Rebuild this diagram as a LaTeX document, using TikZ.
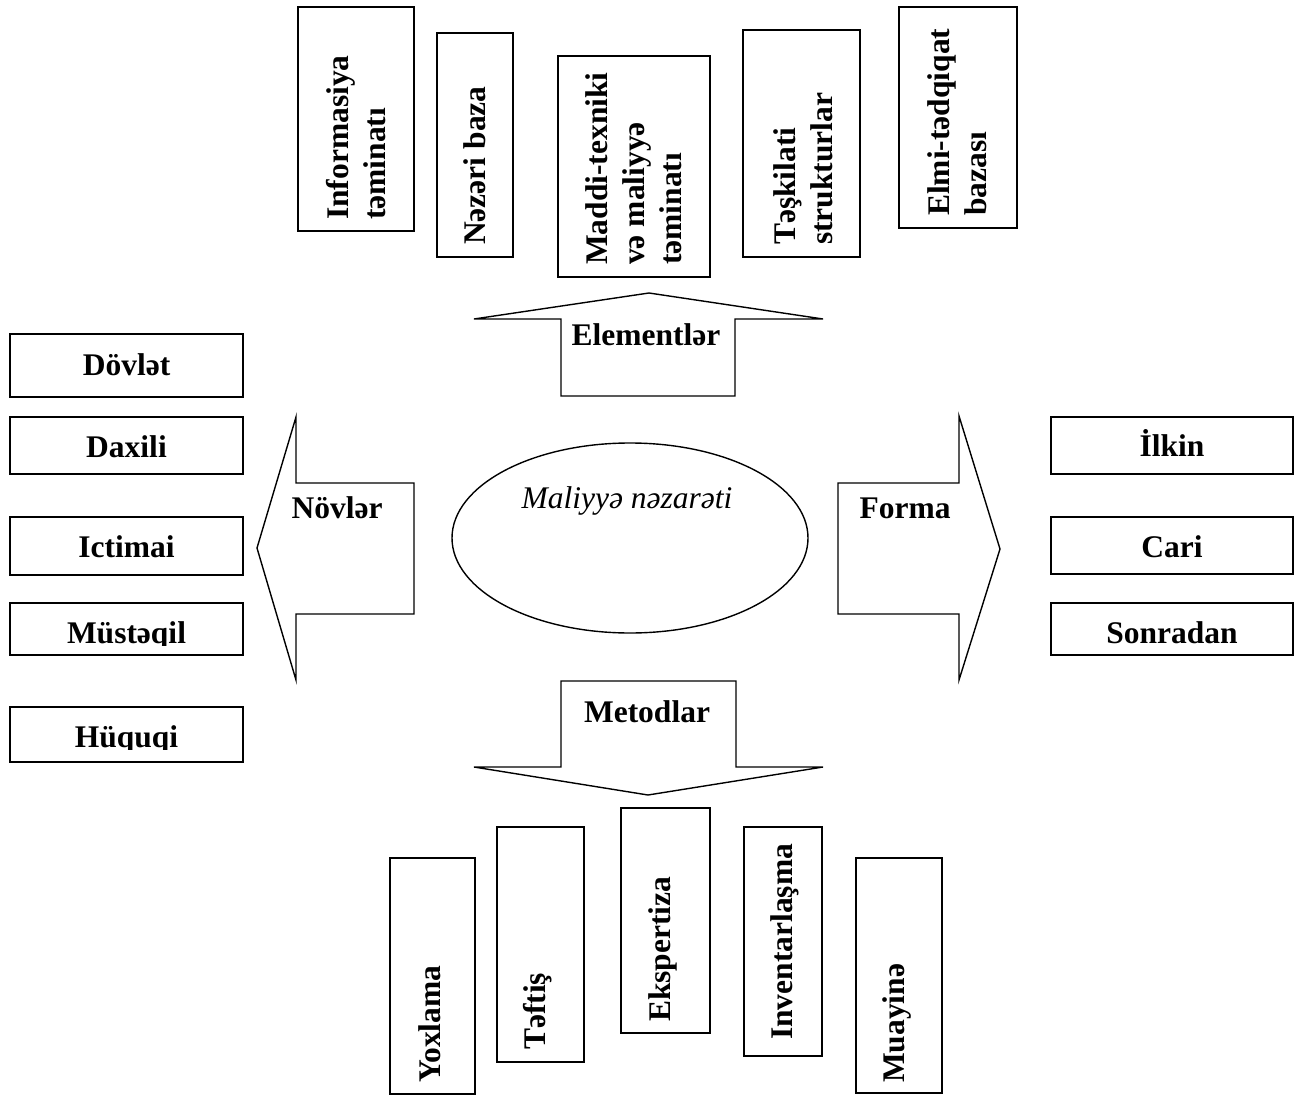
\documentclass[tikz,border=0pt]{standalone}
\usepackage{fontspec}
\setmainfont{Liberation Serif}
\usetikzlibrary{shapes.geometric}
\begin{document}
\begin{tikzpicture}[x=1pt,y=-1pt,
  box/.style={draw, line width=1.8pt, rectangle, inner sep=0pt},
  lbl/.style={font=\fontsize{31.5}{37}\selectfont\bfseries, inner sep=0pt, anchor=base},
  vlbl/.style={font=\fontsize{31.5}{37}\selectfont\bfseries, inner sep=0pt, rotate=90, anchor=west, align=left},
  blockarrow/.style={draw, line width=1.4pt, line join=miter},
]
\useasboundingbox (0,0) rectangle (1301,1097);
\fill[white] (0,0) rectangle (1301,1097);

% ---- central ellipse
\node[draw, ellipse, line width=1.4pt, minimum width=356pt, minimum height=190pt, inner sep=0pt] (core) at (630,538) {};
\node[font=\fontsize{31.5}{37}\selectfont\itshape, inner sep=0pt, anchor=base] (coreT) at (627,508) {Maliyyə nəzarəti};

% ---- block arrows
\draw[blockarrow] (561,396) -- (561,319) -- (474,319) -- (649,293) -- (823,319) -- (735,319) -- (735,396) -- cycle;
\node[lbl] (elemT) at (646,345) {Elementlər};

\draw[blockarrow] (561,681) -- (736,681) -- (736,767) -- (823,767) -- (648,795) -- (474,767) -- (561,767) -- cycle;
\node[lbl] (metT) at (647,722) {Metodlar};

\draw[blockarrow] (414,483) -- (296,483) -- (296,417) -- (257,548) -- (296,680) -- (296,614) -- (414,614) -- cycle;
\node[lbl] (novT) at (337,518) {Növlər};

\draw[blockarrow] (838,483) -- (959,483) -- (959,416) -- (1000,549) -- (959,680) -- (959,614) -- (838,614) -- cycle;
\node[lbl] (forT) at (905,518) {Forma};

% ---- top boxes (elements)
\node[box, minimum width=116pt, minimum height=224pt] (inf) at (356,119) {};
\node[vlbl] (infT) at (356,220) {Informasiya\\təminatı};
\node[box, minimum width=76pt, minimum height=224pt] (nez) at (475,145) {};
\node[vlbl] (nezT) at (475,245) {Nəzəri baza};
\node[box, minimum width=152pt, minimum height=221pt] (mad) at (634,166.5) {};
\node[vlbl] (madT) at (634,265) {Maddi-texniki\\və maliyyə\\təminatı};
\node[box, minimum width=117pt, minimum height=227pt] (tes) at (801.5,143.5) {};
\node[vlbl] (tesT) at (803,245) {Təşkilati\\strukturlar};
\node[box, minimum width=118pt, minimum height=221pt] (elm) at (958,117.5) {};
\node[vlbl] (elmT) at (957,216) {Elmi-tədqiqat\\bazası};

% ---- bottom boxes (methods)
\node[box, minimum width=85pt, minimum height=236pt] (yox) at (432.5,976) {};
\node[vlbl] (yoxT) at (430,1083) {Yoxlama};
\node[box, minimum width=87pt, minimum height=235pt] (tef) at (540.5,944.5) {};
\node[vlbl] (tefT) at (538,1050) {Təftiş};
\node[box, minimum width=89pt, minimum height=225pt] (eks) at (665.5,920.5) {};
\node[vlbl] (eksT) at (663,1022) {Ekspertiza};
\node[box, minimum width=78pt, minimum height=229pt] (inv) at (783,941.5) {};
\node[vlbl] (invT) at (785,1040) {Inventarlaşma};
\node[box, minimum width=86pt, minimum height=235pt] (mua) at (899,975.5) {};
\node[vlbl] (muaT) at (897,1083) {Muayinə};

% ---- left boxes (kinds)
\node[box, minimum width=233pt, minimum height=63pt] (dov) at (126.5,365.5) {};
\node[lbl] (dovT) at (126.5,375) {Dövlət};
\node[box, minimum width=233pt, minimum height=57pt] (dax) at (126.5,445.5) {};
\node[lbl] (daxT) at (126.5,457) {Daxili};
\node[box, minimum width=233pt, minimum height=58pt] (ict) at (126.5,546) {};
\node[lbl] (ictT) at (126.5,557) {Ictimai};
\node[box, minimum width=233pt, minimum height=52pt] (mus) at (126.5,629) {};
\begin{scope}
  \clip (12,605) rectangle (241,645);
  \node[lbl] (musT) at (126.5,643) {Müstəqil};
\end{scope}
\node[box, minimum width=233pt, minimum height=55pt] (huq) at (126.5,734.5) {};
\begin{scope}
  \clip (12,709) rectangle (241,749);
  \node[lbl] (huqT) at (126.5,747) {Hüquqi};
\end{scope}

% ---- right boxes (forms)
\node[box, minimum width=242pt, minimum height=57pt] (ilk) at (1172,445.5) {};
\node[lbl] (ilkT) at (1172,456) {İlkin};
\node[box, minimum width=242pt, minimum height=57pt] (car) at (1172,545.5) {};
\node[lbl] (carT) at (1172,557) {Cari};
\node[box, minimum width=242pt, minimum height=52pt] (son) at (1172,629) {};
\node[lbl] (sonT) at (1172,643) {Sonradan};
\end{tikzpicture}
\end{document}
